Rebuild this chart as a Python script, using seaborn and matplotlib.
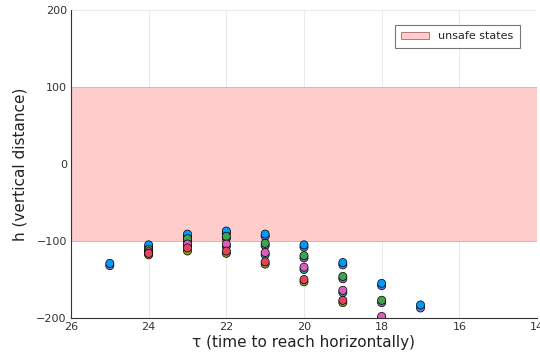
import numpy as np
import pandas as pd
import matplotlib
matplotlib.use("Agg")
import matplotlib.pyplot as plt
import seaborn as sns

taus = [25, 24, 23, 22, 21, 20, 19, 18, 17]
nan = np.nan
s_lav    = [-132, -108, -94, -90, -94, -108, -131, -158, -187]
s_purple = [nan, -113, -100, -97, -106, -122, -149, -180, nan]
s_teal   = [nan, -116, -106, -107, -118, -137, -167, -200, nan]
s_olive  = [nan, -118, -113, -116, -130, -153, -180, nan, nan]
s_blue   = [-129, -105, -91, -87, -91, -105, -128, -155, -183]
s_green  = [nan, -111, -97, -94, -103, -119, -146, -177, nan]
s_pink   = [nan, -114, -104, -104, -115, -134, -164, -198, nan]
s_red    = [nan, -116, -109, -113, -127, -150, -177, nan, nan]

series = {
    "lav": s_lav, "purple": s_purple, "teal": s_teal, "olive": s_olive,
    "blue": s_blue, "green": s_green, "pink": s_pink, "red": s_red,
}
colors = {
    "lav": "#6E6FD8", "purple": "#8A5FC8", "teal": "#00A9AD", "olive": "#8E971D",
    "blue": "#009AFA", "green": "#3EA44E", "pink": "#DA5FB8", "red": "#E2465E",
}

rows = []
for name, vals in series.items():
    for t, v in zip(taus, vals):
        if not np.isnan(v):
            rows.append({"tau": t, "h": v, "series": name})
df = pd.DataFrame(rows)

sns.set_style("white")
plt.rcParams['font.family'] = ['DejaVu Sans']
fig = plt.figure(figsize=(5.4, 3.58), dpi=100)
ax = fig.add_axes([71/540, 1-318/358, (537-71)/540, (318-10)/358])

ax.axhspan(-100, 100, facecolor="#FFCCCC", edgecolor="#E8A8A8", linewidth=0.6,
           label="unsafe states", zorder=1)
sns.scatterplot(data=df, x="tau", y="h", hue="series", palette=colors,
                s=34, edgecolor="black", linewidth=0.5, legend=False, ax=ax, zorder=3)

ax.set_xlim(26, 14)
ax.set_ylim(-200, 200)
ax.set_xticks([26, 24, 22, 20, 18, 16, 14])
ax.set_yticks([-200, -100, 0, 100, 200])
ax.grid(True, color="#E6E6E6", linewidth=0.6)
ax.set_axisbelow(True)
for side in ["top", "right"]:
    ax.spines[side].set_visible(False)
for side in ["left", "bottom"]:
    ax.spines[side].set_color("#333333")
    ax.spines[side].set_linewidth(0.8)
ax.tick_params(axis="both", direction="in", length=3, width=0.6, color="#333333",
               labelsize=8, labelcolor="#333333", pad=3)
ax.set_xlabel("τ (time to reach horizontally)", fontsize=11, color="#222222", labelpad=2)
ax.set_ylabel("h (vertical distance)", fontsize=11, color="#222222", labelpad=6)

leg = ax.legend(loc="upper right", bbox_to_anchor=(0.975, 0.97), fontsize=8,
                frameon=True, fancybox=False, borderpad=0.6, handlelength=2.5)
leg.get_frame().set_edgecolor("#555555")
leg.get_frame().set_linewidth(0.8)
leg.legend_handles[0].set_edgecolor("#AA6666")

fig.savefig("out.png", dpi=100)
